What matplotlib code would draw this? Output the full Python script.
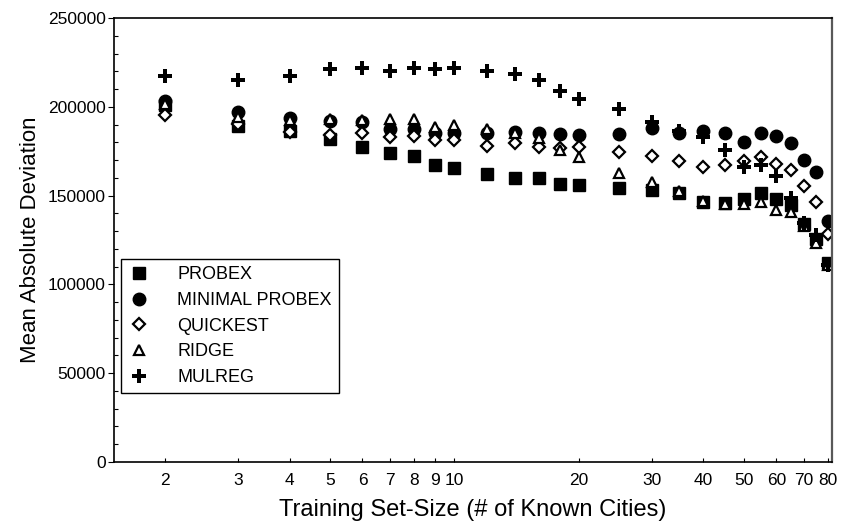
import matplotlib
matplotlib.use("Agg")
import matplotlib.pyplot as plt
from matplotlib.ticker import FixedLocator, FixedFormatter, MultipleLocator, NullLocator

plt.rcParams['font.family'] = ['Liberation Sans', 'DejaVu Sans']

# training set sizes (# of known cities)
sizes = [2, 3, 4, 5, 6, 7, 8, 9, 10, 12, 14, 16, 18, 20, 25, 30, 35, 40, 45, 50,
         55, 60, 65, 70, 75, 80]

probex = [201000, 189200, 186500, 181700, 177500, 174200, 172300, 167200, 165400,
          162000, 160100, 159700, 156400, 156000, 154100, 153200, 151300, 146600,
          146000, 147900, 151300, 147900, 144700, 134000, 125400, 111900]
minimal_probex = [203000, 197200, 193500, 192200, 191600, 187300, 187300, 185400,
                  185400, 185100, 186000, 185100, 184700, 184100, 184700, 187900,
                  185100, 186500, 185100, 180000, 185100, 183600, 179400, 170000,
                  163500, 135900]
quickest = [195400, 190100, 186000, 184100, 185400, 182800, 183600, 181300, 181300,
            177900, 179800, 177200, 177000, 177200, 174700, 172100, 169600, 166300,
            167200, 169500, 171700, 167800, 164200, 155200, 146600, 128400]
ridge = [201500, 194400, 192600, 193000, 192600, 193000, 193000, 188800, 189700,
         187700, 185100, 182300, 175500, 171600, 162900, 157800, 152800, 147000,
         145300, 145300, 146600, 141900, 140900, 132900, 123500, 111000]
mulreg = [217500, 215100, 217500, 221100, 221700, 220300, 221700, 221300, 221700,
          220300, 218500, 215100, 209100, 204200, 198600, 191600, 186400, 182800,
          175700, 165900, 167200, 161300, 148500, 134700, 127800, 110900]

xticks = [2, 3, 4, 5, 6, 7, 8, 9, 10, 20, 30, 40, 50, 60, 70, 80]

fig = plt.figure(figsize=(8.41, 5.32), dpi=100)
ax = fig.add_axes([0.1356, 0.1316, 0.8537, 0.8346])

ax.plot(sizes, probex, 's', color='black', ms=9, label='PROBEX')
ax.plot(sizes, minimal_probex, 'o', color='black', ms=9, label='MINIMAL PROBEX')
ax.plot(sizes, quickest, 'D', mfc='white', mec='black', mew=1.6, ms=6.3,
        label='QUICKEST')
ax.plot(sizes, ridge, '^', mfc='white', mec='black', mew=1.6, ms=7.5,
        label='RIDGE')
ax.plot(sizes, mulreg, 'P', color='black', ms=10, mew=0, label='MULREG')

ax.set_xscale('log')
ax.set_xlim(1.506, 81.8)
ax.set_ylim(0, 250000)
ax.xaxis.set_major_locator(FixedLocator(xticks))
ax.xaxis.set_major_formatter(FixedFormatter([str(t) for t in xticks]))
ax.xaxis.set_minor_locator(NullLocator())
ax.yaxis.set_major_locator(MultipleLocator(50000))
ax.yaxis.set_minor_locator(MultipleLocator(10000))
ax.yaxis.set_major_formatter(plt.FuncFormatter(lambda v, p: '%d' % v))

ax.tick_params(axis='x', which='major', direction='in', length=3, width=0.8,
               labelsize=12.5, pad=8)
ax.tick_params(axis='y', which='major', direction='out', length=4, width=0.8,
               labelsize=12.5, pad=2)
ax.tick_params(axis='y', which='minor', direction='in', length=3, width=0.8)

for s in ['left', 'bottom', 'top']:
    ax.spines[s].set_linewidth(1.2)
    ax.spines[s].set_color('black')
ax.spines['right'].set_linewidth(1.6)
ax.spines['right'].set_color('0.35')

ax.set_xlabel('Training Set-Size (# of Known Cities)', fontsize=17, labelpad=8)
ax.set_ylabel('Mean Absolute Deviation', fontsize=16, labelpad=5)

leg = ax.legend(loc='upper left', bbox_to_anchor=(0.01, 0.457), fontsize=13,
                frameon=True, fancybox=False, edgecolor='black', framealpha=1,
                handlelength=1.2, handletextpad=1.5, borderpad=0.4,
                labelspacing=0.48, borderaxespad=0)
leg.get_frame().set_linewidth(1.0)

fig.savefig('out.png', dpi=100)
